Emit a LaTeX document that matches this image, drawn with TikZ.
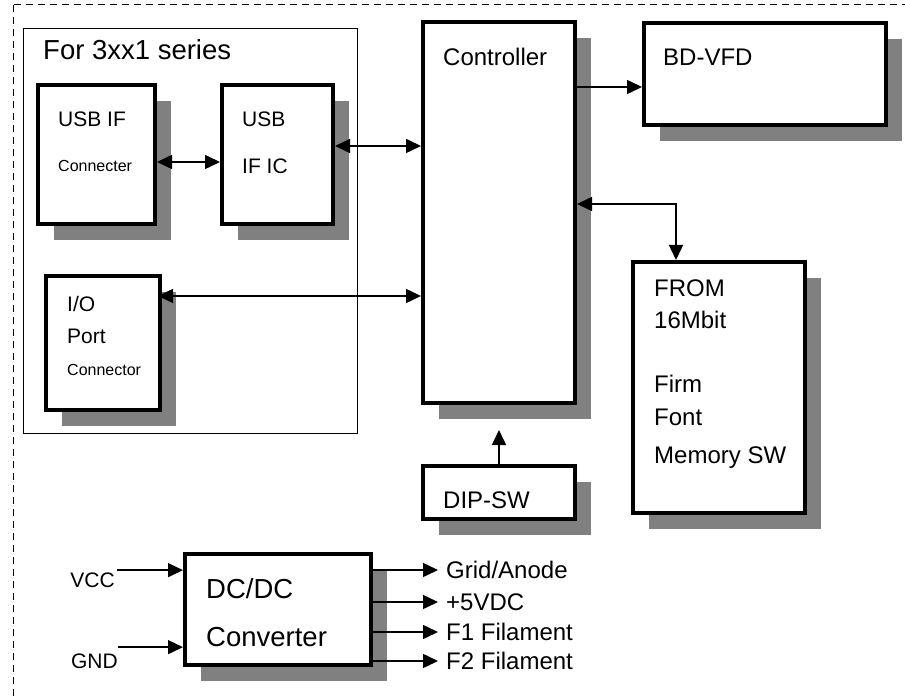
\documentclass[tikz,border=0pt]{standalone}
\usepackage{fontspec}
\setmainfont{Liberation Sans}
\usetikzlibrary{arrows.meta, shadows, calc}

\begin{document}
\begin{tikzpicture}[
  x=1pt, y=-1pt,
  blk/.style={rectangle, draw, line width=4pt, fill=white, inner sep=0pt,
              drop shadow={shadow xshift=16pt, shadow yshift=-16pt, fill=black!50, opacity=1}},
  grp/.style={rectangle, draw, line width=1pt, inner sep=0pt},
  txt/.style={anchor=base west, inner sep=0pt, font=\fontsize{24}{28}\selectfont},
  txtmid/.style={txt, font=\fontsize{21}{25}\selectfont},
  txtsmall/.style={txt, font=\fontsize{16}{19}\selectfont},
  txthuge/.style={txt, font=\fontsize{27.5}{32}\selectfont},
  arr/.style={-{Triangle[length=15pt, width=14pt]}, line width=1.5pt},
  dbl/.style={{Triangle[length=15pt, width=14pt]}-{Triangle[length=15pt, width=14pt]}, line width=1.5pt},
  frame/.style={dash pattern=on 7pt off 5pt, line width=1pt}
]
\useasboundingbox (0,0) rectangle (905,700);
\clip (0,0) rectangle (905,700);
\draw[frame] (13,5) rectangle (960,760);

% USB / IO group
\node[grp, minimum width=334pt, minimum height=405pt] (grp) at (190.5,231) {};
\node[txthuge] (grp-t) at ($(grp.north west)+(20,32)$) {For 3xx1 series};

\node[blk, minimum width=117pt, minimum height=139pt] (usbif) at (96.5,154.5) {};
\node[txtmid] (usbif-t1) at ($(usbif.north west)+(22,44)$) {USB IF};
\node[txtsmall] (usbif-t2) at ($(usbif.north west)+(22,89)$) {Connecter};

\node[blk, minimum width=111pt, minimum height=139pt] (usbic) at (277.5,154.5) {};
\node[txtmid] (usbic-t1) at ($(usbic.north west)+(22,44)$) {USB};
\node[txtmid] (usbic-t2) at ($(usbic.north west)+(22,91)$) {IF IC};

\node[blk, minimum width=114pt, minimum height=134pt] (io) at (103,343) {};
\node[txtmid] (io-t1) at ($(io.north west)+(23,38)$) {I/O};
\node[txtmid] (io-t2) at ($(io.north west)+(23,70)$) {Port};
\node[txtsmall] (io-t3) at ($(io.north west)+(23,102)$) {Connector};

% main blocks
\node[blk, minimum width=152pt, minimum height=381pt] (ctrl) at (499,212.5) {};
\node[txt] (ctrl-t) at ($(ctrl.north west)+(22,46)$) {Controller};

\node[blk, minimum width=242pt, minimum height=102pt] (vfd) at (765,74) {};
\node[txt] (vfd-t) at ($(vfd.north west)+(21,45)$) {BD-VFD};

\node[blk, minimum width=172pt, minimum height=251pt] (from) at (719,387.5) {};
\foreach \dy/\t [count=\i] in {37/FROM, 69/16Mbit, 133/Firm, 165/Font, 203/{Memory SW}}
  \node[txt] (from-t\i) at ($(from.north west)+(23,\dy)$) {\t};

\node[blk, minimum width=152pt, minimum height=53pt] (dip) at (499,492.5) {};
\node[txt] (dip-t) at ($(dip.north west)+(22,44)$) {DIP-SW};

\node[blk, minimum width=186pt, minimum height=111pt] (dc) at (278,609.5) {};
\node[txthuge] (dc-t1) at ($(dc.north west)+(23,46)$) {DC/DC};
\node[txthuge] (dc-t2) at ($(dc.north west)+(23,94)$) {Converter};

% connections
\coordinate (p1) at ($(usbif.east)+(0,7.5)$);
\draw[dbl] (p1) -- (p1 -| usbic.west);
\coordinate (p2) at ($(usbic.east)+(0,-8.5)$);
\draw[dbl] (p2) -- (p2 -| ctrl.west);
\coordinate (p3) at ($(io.east)+(-4,-47)$);
\draw[dbl] (p3) -- (p3 -| ctrl.west);
\coordinate (p4) at ($(vfd.west)+(0,13)$);
\draw[arr] (p4 -| ctrl.east) -- (p4);
\coordinate (p5) at ($(ctrl.east)+(0,-8.5)$);
\coordinate (p6) at ($(from.north west)+(45,0)$);
\draw[dbl] (p5) -| (p6);
\coordinate (p7) at ($(ctrl.south)+(0,25)$);
\draw[arr] (dip.north) -- (p7);

% power
\node[txtmid, anchor=base east] (vcc) at ($(dc.west)+(-68,-22.5)$) {VCC};
\node[txtmid, anchor=base east] (gnd) at ($(dc.west)+(-65,58.5)$) {GND};
\coordinate (p8) at ($(vcc.north east)+(2,-2)$);
\draw[arr] (p8) -- (p8 -| dc.west);
\coordinate (p9) at ($(gnd.north east)+(0,-6)$);
\draw[arr] (p9) -- (p9 -| dc.west);

\foreach \dy/\t [count=\i] in {-39.5/{Grid/Anode}, -7.5/{+5VDC}, 22.5/{F1 Filament}, 51.5/{F2 Filament}} {
  \node[txt, anchor=west] (out\i) at ($(dc.east)+(73,\dy)$) {\t};
  \draw[arr] (dc.east |- out\i.west) -- ([xshift=-8pt]out\i.west);
}
\end{tikzpicture}
\end{document}
